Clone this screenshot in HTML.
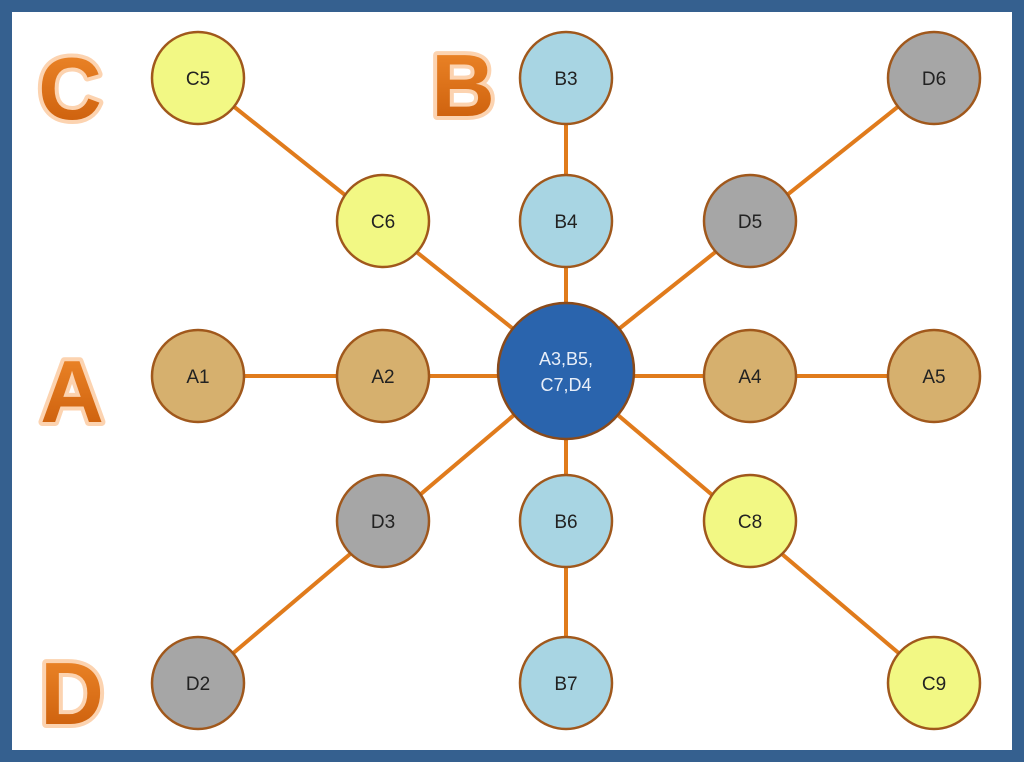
<!DOCTYPE html><html><head><style>body{margin:0}svg{display:block}</style></head><body>
<svg width="1024" height="762" xmlns="http://www.w3.org/2000/svg" font-family="Liberation Sans, sans-serif">
<defs><linearGradient id="g" x1="0" y1="0" x2="0" y2="1"><stop offset="0" stop-color="#f08a2c"/><stop offset="1" stop-color="#c85a08"/></linearGradient></defs>
<rect width="1024" height="762" fill="#35608f"/>
<rect x="12" y="12" width="1000" height="738" fill="#fff"/>
<g stroke="#e07b1c" stroke-width="4">
<line x1="198" y1="78" x2="566" y2="371"/><line x1="934" y1="78" x2="566" y2="371"/>
<line x1="198" y1="683" x2="566" y2="371"/><line x1="934" y1="683" x2="566" y2="371"/>
<line x1="566" y1="78" x2="566" y2="683"/><line x1="198" y1="376" x2="934" y2="376"/>
</g>
<g stroke="#a0581c" stroke-width="2.5" font-size="19" text-anchor="middle">
<g fill="#f2f884"><circle cx="198" cy="78" r="46"/><circle cx="383" cy="221" r="46"/><circle cx="750" cy="521" r="46"/><circle cx="934" cy="683" r="46"/></g>
<g fill="#a8d5e3"><circle cx="566" cy="78" r="46"/><circle cx="566" cy="221" r="46"/><circle cx="566" cy="521" r="46"/><circle cx="566" cy="683" r="46"/></g>
<g fill="#a6a6a6"><circle cx="934" cy="78" r="46"/><circle cx="750" cy="221" r="46"/><circle cx="383" cy="521" r="46"/><circle cx="198" cy="683" r="46"/></g>
<g fill="#d6b06e"><circle cx="198" cy="376" r="46"/><circle cx="383" cy="376" r="46"/><circle cx="750" cy="376" r="46"/><circle cx="934" cy="376" r="46"/></g>
<circle cx="566" cy="371" r="68" fill="#2a64ad" stroke="#8a4a1a"/>
</g>
<g font-size="19" text-anchor="middle" fill="#222">
<text x="198" y="85">C5</text><text x="383" y="228">C6</text><text x="750" y="528">C8</text><text x="934" y="690">C9</text>
<text x="566" y="85">B3</text><text x="566" y="228">B4</text><text x="566" y="528">B6</text><text x="566" y="690">B7</text>
<text x="934" y="85">D6</text><text x="750" y="228">D5</text><text x="383" y="528">D3</text><text x="198" y="690">D2</text>
<text x="198" y="383">A1</text><text x="383" y="383">A2</text><text x="750" y="383">A4</text><text x="934" y="383">A5</text>
<text x="566" y="365" fill="#e8eef8" font-size="18">A3,B5,</text><text x="566" y="391" fill="#e8eef8" font-size="18">C7,D4</text>
</g>
<g font-size="88" font-weight="bold" text-anchor="middle" fill="url(#g)" stroke="#fcd3b0" stroke-width="8" stroke-linejoin="round" paint-order="stroke">
<text x="70" y="119">C</text><text x="463" y="116">B</text><text x="72" y="422">A</text><text x="72" y="724">D</text>
</g>
</svg></body></html>
